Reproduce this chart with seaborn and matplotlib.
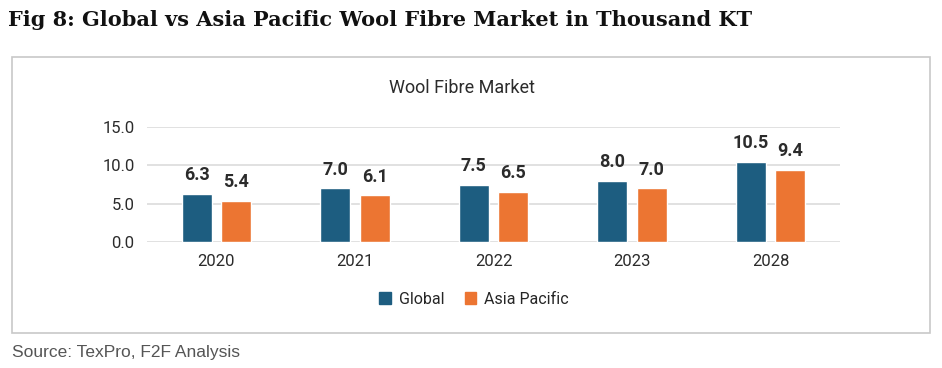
import matplotlib
matplotlib.use("Agg")
import matplotlib.pyplot as plt
from matplotlib.patches import Rectangle
import pandas as pd
import seaborn as sns

years = ["2020", "2021", "2022", "2023", "2028"]
global_vals = [6.3, 7.0, 7.5, 8.0, 10.5]
asia_vals = [5.4, 6.1, 6.5, 7.0, 9.4]
series = ["Global", "Asia Pacific"]
colors = ["#1d5d80", "#ec7532"]

df = pd.DataFrame({
    "year": years * 2,
    "value": global_vals + asia_vals,
    "series": [series[0]] * len(years) + [series[1]] * len(years),
})

sns.set_style("white")
plt.rcParams["font.family"] = ["Roboto", "DejaVu Sans"]

fig = plt.figure(figsize=(9.42, 3.68), dpi=100)
W, H = 942, 368

# outer frame
fig.patches.append(Rectangle((12 / W, 1 - 333 / H), 918 / W, 276 / H,
                             transform=fig.transFigure, fill=False,
                             edgecolor="#c8c8c8", linewidth=1.2))

ax = fig.add_axes([147 / W, 1 - 242 / H, 693 / W, 115 / H])
sns.barplot(data=df, x="year", y="value", hue="series", palette=colors,
            width=0.57, gap=0.24, ax=ax, legend=False, saturation=1)

ax.set_ylim(0, 15)
ax.set_xlim(-0.5, 4.5)
ax.set_yticks([0, 5, 10, 15])
ax.set_yticklabels(["0.0", "5.0", "10.0", "15.0"])
ax.yaxis.grid(True, color="#dcdcdc", linewidth=1.2)
ax.set_axisbelow(True)
sns.despine(ax=ax, left=True, bottom=True)
ax.tick_params(axis="both", length=0, labelsize=12, colors="#2b2b2b")
ax.tick_params(axis="y", pad=9)
ax.tick_params(axis="x", pad=9)
ax.set_xlabel("")
ax.set_ylabel("")

for cont in ax.containers:
    ax.bar_label(cont, fmt="%.1f", padding=7, fontsize=13,
                 fontweight="bold", color="#2b2b2b")

fig.text(462 / W, 1 - 88 / H, "Wool Fibre Market", ha="center", va="center",
         fontsize=13, color="#2b2b2b")

# legend
handles = [Rectangle((0, 0), 1, 1, color=c) for c in colors]
fig.legend(handles, series, loc="center", bbox_to_anchor=(474 / W, 1 - 299 / H),
           ncol=2, frameon=False, fontsize=11.5, handlelength=0.7,
           handleheight=0.7, handletextpad=0.5, columnspacing=1.3)

fig.text(8 / W, 1 - 20 / H,
         "Fig 8: Global vs Asia Pacific Wool Fibre Market in Thousand KT",
         ha="left", va="center", fontsize=15, fontweight="bold",
         family=["DejaVu Serif"], color="#111111")

fig.text(12 / W, 1 - 353 / H, "Source: TexPro, F2F Analysis", ha="left",
         va="center", fontsize=12.5, family=["Liberation Sans", "DejaVu Sans"],
         color="#555555")

fig.savefig("out.png", dpi=100)
